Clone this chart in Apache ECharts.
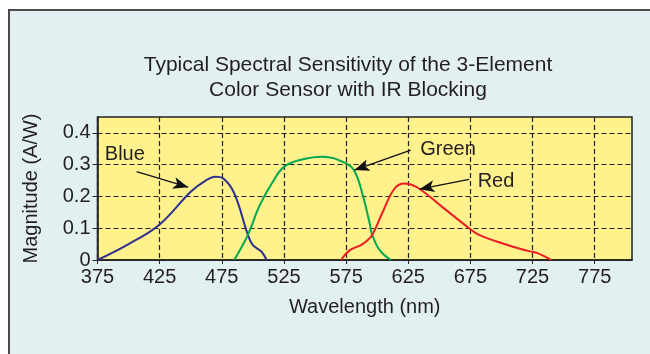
<!DOCTYPE html>
<html>
<head>
<meta charset="utf-8">
<script src="https://cdn.jsdelivr.net/npm/echarts@6/dist/echarts.min.js"></script>
<style>
  html, body { margin: 0; padding: 0; background: #fff; overflow: hidden; width: 650px; height: 354px; }
  #frame {
    position: absolute; left: 8px; top: 9px; width: 640px; height: 343px;
    background: #e2f0f1; border-left: 2px solid #4a4a4a; border-top: 2px solid #4a4a4a;
  }
  #chart { position: absolute; left: 0; top: 0; width: 650px; height: 354px; }
</style>
</head>
<body>
<div id="frame"></div>
<div id="chart"></div>
<script>
// wavelength (nm), magnitude (A/W)
const blueNm = [375, 400, 425, 450, 462, 470, 476, 485, 496, 500, 507, 511];
const blueVal = [0, 0.05, 0.112, 0.215, 0.25, 0.262, 0.257, 0.21, 0.079, 0.047, 0.026, 0];

const greenNm = [485, 496, 505, 516, 525, 537, 556, 575, 582, 588, 594, 596, 602, 611];
const greenVal = [0, 0.079, 0.168, 0.246, 0.293, 0.314, 0.325, 0.304, 0.278, 0.21, 0.115, 0.079, 0.031, 0];

const redNm = [571, 578, 587, 591, 596, 604, 614, 622, 632, 652, 674, 682, 701, 722, 728, 740];
const redVal = [0, 0.031, 0.047, 0.058, 0.079, 0.147, 0.225, 0.241, 0.229, 0.168, 0.1, 0.079, 0.052, 0.028, 0.023, 0];

const xTicks = [375, 425, 475, 525, 575, 625, 675, 725, 775];
const yTicks = [0, 0.1, 0.2, 0.3, 0.4];

// label text position and arrow [from, to] in data space
const blueNote = { text: [397, 0.333], arrow: [[406.5, 0.278], [447.9, 0.229]] };
const greenNote = { text: [657, 0.349], arrow: [[627, 0.346], [581.7, 0.283]] };
const redNote = { text: [695.6, 0.248], arrow: [[674, 0.254], [634, 0.223]] };

const FONT = "'Liberation Sans', Arial, sans-serif";
const TXT = "#231f20";

function pairs(xs, ys) {
  return xs.map((x, i) => [x, ys[i]]);
}

function makeSeries(name, xs, ys, color, note) {
  return {
    name: name,
    type: "line",
    data: pairs(xs, ys),
    smooth: 0.4,
    showSymbol: false,
    lineStyle: { color: color, width: 2 },
    markLine: {
      silent: true,
      symbol: ["none", "arrow"],
      symbolSize: [9, 15],
      lineStyle: { color: "#111", width: 1.3, type: "solid" },
      label: { show: false },
      data: [[{ coord: note.arrow[0] }, { coord: note.arrow[1] }]],
    },
    markPoint: {
      silent: true,
      symbolSize: 0,
      label: {
        show: true, position: "inside", formatter: name,
        color: TXT, fontSize: 20, fontFamily: FONT,
      },
      data: [{ coord: note.text }],
    },
  };
}

const chart = echarts.init(document.getElementById("chart"));

chart.setOption({
  animation: false,
  backgroundColor: "transparent",
  graphic: [
    {
      type: "text", x: 348, y: 53,
      style: {
        text: "Typical Spectral Sensitivity of the 3-Element\nColor Sensor with IR Blocking",
        align: "center", verticalAlign: "top",
        font: "21px " + FONT, fill: TXT, lineHeight: 25,
      },
    },
  ],
  grid: {
    left: 97.5, right: 18, top: 117, bottom: 94,
    show: true, backgroundColor: "#fff18c",
    borderColor: "#222", borderWidth: 1.5,
  },
  xAxis: {
    type: "value",
    min: 375, max: 805, interval: 50,
    name: "Wavelength (nm)", nameLocation: "middle", nameGap: 37,
    nameTextStyle: { color: TXT, fontSize: 20, fontFamily: FONT },
    axisLine: { show: true, lineStyle: { color: "#222", width: 1.5 } },
    axisTick: { show: true, length: 4, lineStyle: { color: "#222" }, customValues: xTicks },
    axisLabel: { color: TXT, fontSize: 20, fontFamily: FONT, margin: 7, customValues: xTicks },
    splitLine: { show: true, lineStyle: { color: "#222", type: [5, 3], width: 1.2 } },
  },
  yAxis: {
    type: "value",
    min: 0, max: 0.45, interval: 0.1,
    name: "Magnitude (A/W)", nameLocation: "middle", nameGap: 56,
    nameTextStyle: { color: TXT, fontSize: 20, fontFamily: FONT },
    axisLine: { show: true, lineStyle: { color: "#222", width: 1.5 } },
    axisTick: { show: true, length: 5, lineStyle: { color: "#222" }, customValues: yTicks },
    axisLabel: {
      color: TXT, fontSize: 20, fontFamily: FONT, margin: 7, customValues: yTicks,
      formatter: (v) => (v === 0 ? "0" : v.toFixed(1)),
    },
    splitLine: { show: true, lineStyle: { color: "#222", type: [5, 3], width: 1.2 } },
  },
  series: [
    makeSeries("Blue", blueNm, blueVal, "#2e3192", blueNote),
    makeSeries("Green", greenNm, greenVal, "#00a651", greenNote),
    makeSeries("Red", redNm, redVal, "#ed1c24", redNote),
  ],
});

window.addEventListener("resize", () => chart.resize());
</script>
</body>
</html>
